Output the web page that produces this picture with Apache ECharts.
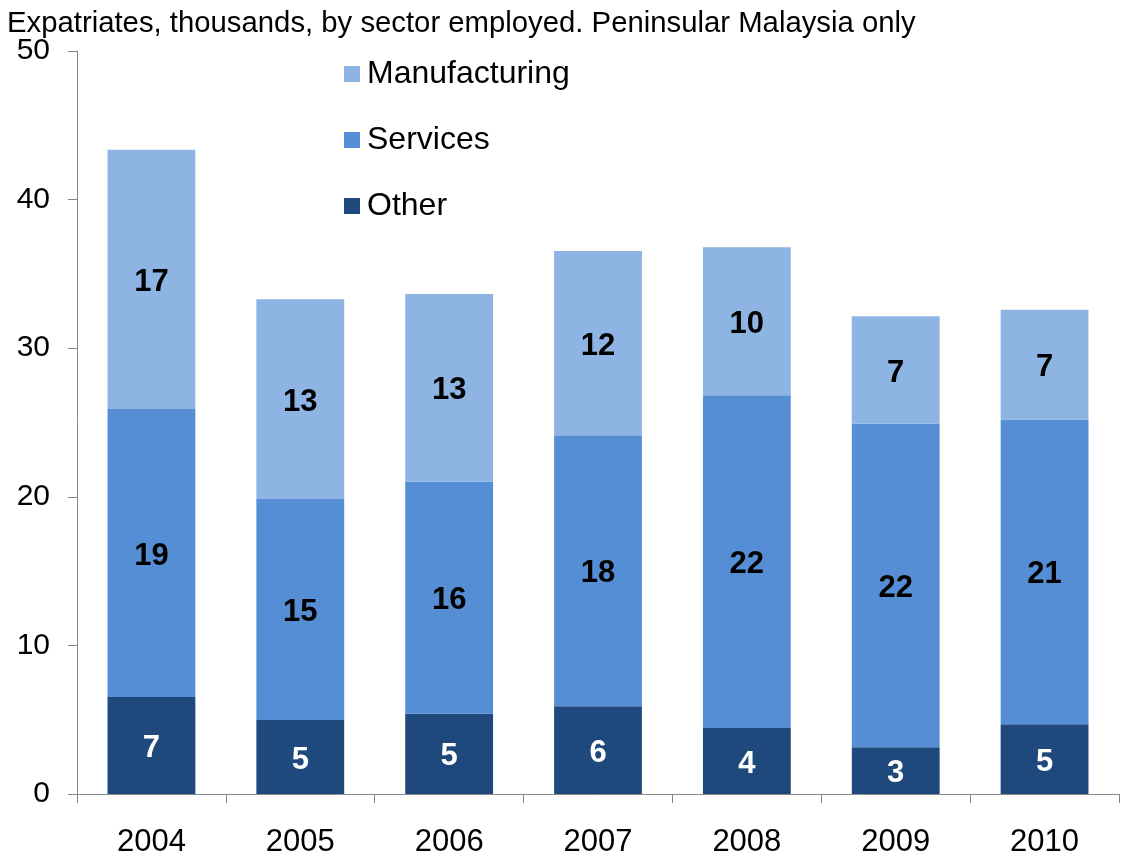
<!DOCTYPE html>
<html>
<head>
<meta charset="utf-8">
<script src="https://cdn.jsdelivr.net/npm/echarts@6/dist/echarts.min.js"></script>
<style>
  html, body { margin: 0; padding: 0; background: #ffffff; }
  #chart { width: 1124px; height: 865px; }
</style>
</head>
<body>
<div id="chart"></div>
<script>
// Expatriates (thousands) by sector employed, Peninsular Malaysia
const years = ['2004', '2005', '2006', '2007', '2008', '2009', '2010'];
const other = [6.53, 4.98, 5.40, 5.90, 4.44, 3.14, 4.69];
const services = [19.38, 14.87, 15.62, 18.24, 22.39, 21.78, 20.52];
const manufacturing = [17.45, 13.45, 12.63, 12.40, 9.96, 7.23, 7.38];
const yTicks = [0, 10, 20, 30, 40, 50];

const FONT = '"Liberation Sans", Arial, sans-serif';
const AXIS_GREY = '#888888';

const chart = echarts.init(document.getElementById('chart'), null, { renderer: 'canvas' });

// one stacked segment per sector; labels show the rounded value
function seg(name, values, color, labelColor) {
  return {
    name: name,
    type: 'bar',
    stack: 'total',
    barWidth: '59%',
    data: values,
    itemStyle: { color: color },
    label: {
      show: true,
      position: 'inside',
      offset: [0, 3],
      color: labelColor,
      fontFamily: FONT,
      fontWeight: 'bold',
      fontSize: 31,
      formatter: p => String(Math.round(p.value))
    },
    emphasis: { disabled: true }
  };
}

chart.setOption({
  animation: false,
  backgroundColor: '#ffffff',
  title: {
    text: 'Expatriates, thousands, by sector employed. Peninsular Malaysia only',
    left: 7,
    top: 9,
    padding: 0,
    textStyle: { fontFamily: FONT, fontSize: 29.3, fontWeight: 'normal', color: '#000000' }
  },
  legend: {
    data: ['Manufacturing', 'Services', 'Other'],
    orient: 'vertical',
    left: 344,
    top: 58,
    padding: 0,
    itemWidth: 16,
    itemHeight: 16,
    itemGap: 34,
    icon: 'rect',
    textStyle: { fontFamily: FONT, fontSize: 32, color: '#000000', padding: [0, 0, 0, 2] }
  },
  grid: { left: 77, right: 5, top: 51, bottom: 71, containLabel: false },
  xAxis: {
    type: 'category',
    data: years,
    axisLine: { lineStyle: { color: AXIS_GREY, width: 1 } },
    axisTick: { show: true, length: 9, lineStyle: { color: AXIS_GREY } },
    axisLabel: { fontFamily: FONT, fontSize: 31, color: '#000000', margin: 33 }
  },
  yAxis: {
    type: 'value',
    min: yTicks[0],
    max: yTicks[yTicks.length - 1],
    interval: 10,
    axisLine: { show: true, lineStyle: { color: AXIS_GREY, width: 1 } },
    axisTick: { show: true, length: 9, lineStyle: { color: AXIS_GREY } },
    splitLine: { show: false },
    axisLabel: { fontFamily: FONT, fontSize: 30, color: '#000000', margin: 27, padding: [9, 0, 0, 0] }
  },
  series: [
    seg('Other', other, '#1F497D', '#ffffff'),
    seg('Services', services, '#558ED5', '#000000'),
    seg('Manufacturing', manufacturing, '#8EB4E3', '#000000')
  ]
});
</script>
</body>
</html>
